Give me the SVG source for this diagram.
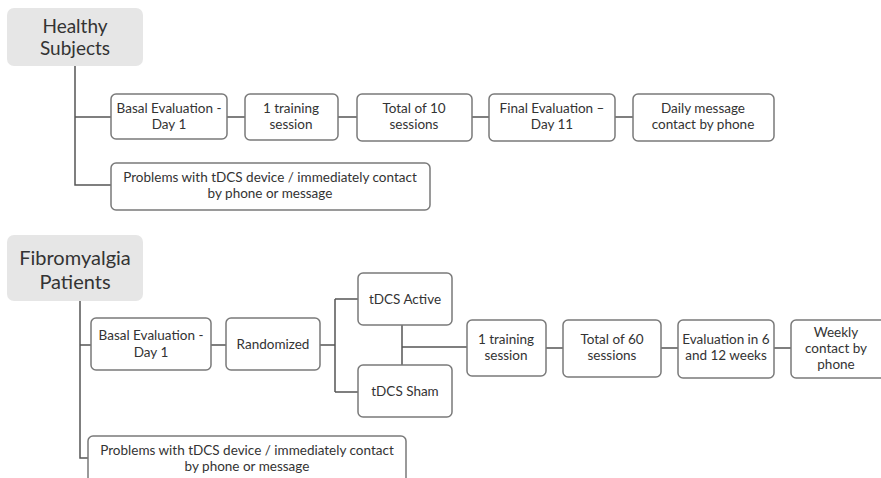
<svg xmlns="http://www.w3.org/2000/svg" width="881" height="478" viewBox="0 0 881 478">
<style>
.box{fill:#fff;stroke:#7a7a7a;stroke-width:1.5}
.hdr{fill:#e6e6e6;stroke:none}
.t{font-family:Lato,"Open Sans",sans-serif;font-size:13.5px;fill:#333;text-anchor:middle}
.h{font-family:Lato,"Open Sans",sans-serif;font-size:19px;fill:#333;text-anchor:middle}
.h2{font-family:Lato,"Open Sans",sans-serif;font-size:20px;fill:#333;text-anchor:middle}
.c{fill:none;stroke:#555;stroke-width:1.5}
</style>
<rect width="881" height="478" fill="#fff"/>
<g id="connectors">
<path class="c" d="M75 66V185H111M75 117H111M227 117H245M338 117H357M472 117H489M615 117H633"/>
<path class="c" d="M80 301V458H88M80 345H91M211 345H226M320 345H335M335 299V392M335 299H358M335 392H358M402 325V365M402 347H467M546 348H563M661 348H678M774 348H791"/>
</g>
<g id="healthy"><rect class="hdr" x="7" y="8" width="136" height="58" rx="7"/><text class="h" x="75" y="33">Healthy</text><text class="h" x="75" y="55">Subjects</text></g>
<g id="hs-basal"><rect class="box" x="111" y="94" width="116" height="45" rx="5"/><text class="t" x="169" y="113">Basal Evaluation -</text><text class="t" x="169" y="129">Day 1</text></g>
<g id="hs-training"><rect class="box" x="245" y="94" width="93" height="46" rx="5"/><text class="t" x="291" y="113">1 training</text><text class="t" x="291" y="129">session</text></g>
<g id="hs-total"><rect class="box" x="357" y="94" width="115" height="47" rx="5"/><text class="t" x="414" y="113">Total of 10</text><text class="t" x="414" y="129">sessions</text></g>
<g id="hs-final"><rect class="box" x="489" y="94" width="126" height="47" rx="5"/><text class="t" x="552" y="113">Final Evaluation –</text><text class="t" x="552" y="129">Day 11</text></g>
<g id="hs-daily"><rect class="box" x="633" y="94" width="141" height="47" rx="5"/><text class="t" x="703" y="113">Daily message</text><text class="t" x="703" y="129">contact by phone</text></g>
<g id="hs-problems"><rect class="box" x="111" y="163" width="319" height="47" rx="5"/><text class="t" x="270" y="182">Problems with tDCS device / immediately contact</text><text class="t" x="270" y="198">by phone or message</text></g>
<g id="fibro"><rect class="hdr" x="7" y="235" width="136" height="66" rx="7"/><text class="h2" x="75" y="265">Fibromyalgia</text><text class="h2" x="75" y="289">Patients</text></g>
<g id="fm-basal"><rect class="box" x="91" y="318" width="120" height="52" rx="5"/><text class="t" x="151" y="340">Basal Evaluation -</text><text class="t" x="151" y="357">Day 1</text></g>
<g id="fm-random"><rect class="box" x="226" y="318" width="94" height="52" rx="5"/><text class="t" x="273" y="349">Randomized</text></g>
<g id="fm-active"><rect class="box" x="358" y="273" width="94" height="52" rx="5"/><text class="t" x="405" y="304">tDCS Active</text></g>
<g id="fm-sham"><rect class="box" x="358" y="365" width="94" height="52" rx="5"/><text class="t" x="405" y="396">tDCS Sham</text></g>
<g id="fm-training"><rect class="box" x="467" y="320" width="79" height="56" rx="5"/><text class="t" x="506" y="344">1 training</text><text class="t" x="506" y="360">session</text></g>
<g id="fm-total"><rect class="box" x="563" y="320" width="98" height="57" rx="5"/><text class="t" x="612" y="344">Total of 60</text><text class="t" x="612" y="360">sessions</text></g>
<g id="fm-eval"><rect class="box" x="678" y="320" width="96" height="58" rx="5"/><text class="t" x="726" y="344">Evaluation in 6</text><text class="t" x="726" y="360">and 12 weeks</text></g>
<g id="fm-weekly"><rect class="box" x="791" y="320" width="100" height="58" rx="5"/><text class="t" x="836" y="337">Weekly</text><text class="t" x="836" y="353">contact by</text><text class="t" x="836" y="369">phone</text></g>
<g id="fm-problems"><rect class="box" x="88" y="436" width="318" height="60" rx="5"/><text class="t" x="247" y="455">Problems with tDCS device / immediately contact</text><text class="t" x="247" y="471">by phone or message</text></g>
</svg>
